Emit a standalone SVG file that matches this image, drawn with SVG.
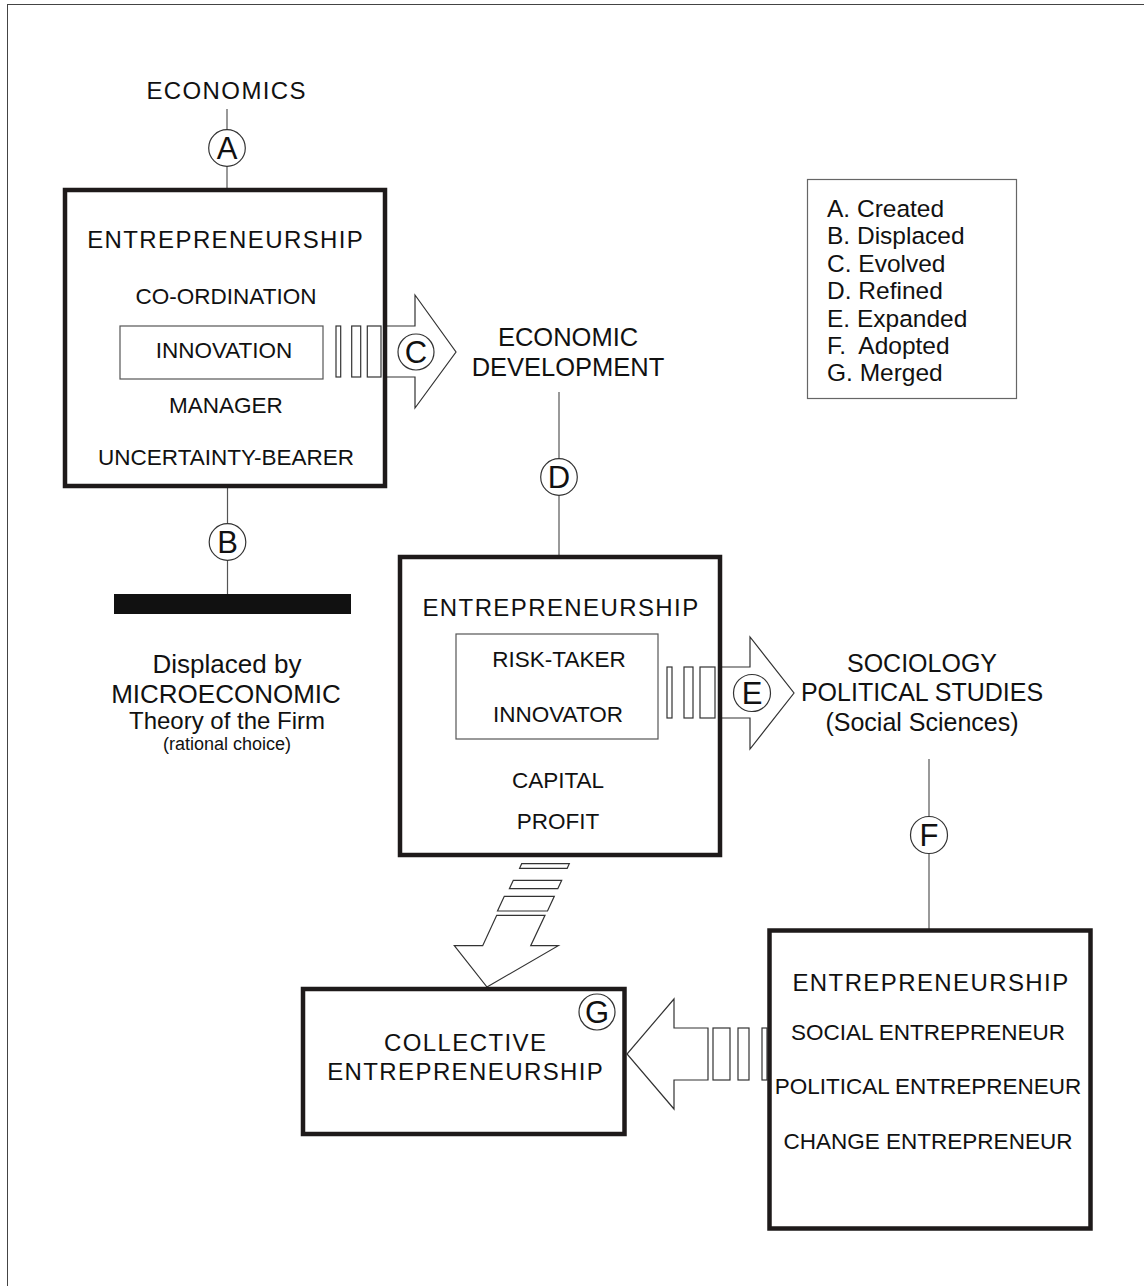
<svg xmlns="http://www.w3.org/2000/svg" width="1144" height="1286" viewBox="0 0 1144 1286">
<style>
text{font-family:"Liberation Sans",Arial,sans-serif;fill:#111;text-anchor:middle}
.big{font-size:24px;letter-spacing:1.4px}
.mid{font-size:22.5px}
.lbl{font-size:25.5px}
.leg{font-size:24.5px;text-anchor:start}
.box{fill:#fff;stroke:#1e1a1a;stroke-width:4.5}
.inner{fill:none;stroke:#555;stroke-width:1.2}
.line{stroke:#555;stroke-width:1.2;fill:none}
.circ{fill:#fff;stroke:#333;stroke-width:1.2}
.ltr{font-size:31px}
.arr{fill:#fff;stroke:#333;stroke-width:1.2;stroke-linejoin:miter}
</style>
<rect x="0" y="0" width="1144" height="1286" fill="#fff"/>
<rect x="7.5" y="4.5" width="1150" height="1300" fill="none" stroke="#444" stroke-width="1"/>

<g id="connectors">
  <line class="line" x1="227" y1="109" x2="227" y2="190"/>
  <line class="line" x1="227.5" y1="486" x2="227.5" y2="594"/>
  <line class="line" x1="559" y1="392" x2="559" y2="557"/>
  <line class="line" x1="929" y1="759" x2="929" y2="930"/>
  <rect x="114" y="594" width="237" height="20" fill="#111"/>
  <!-- C arrow -->
  <polygon class="arr" points="385,326 415,326 415,295 456,352 415,408 415,377 385,377"/>
  <!-- E arrow -->
  <polygon class="arr" points="720,667 750,667 750,637 794,693 750,749 750,718 720,718"/>
  <!-- G arrow -->
  <polygon class="arr" points="708,1028 674,1028 674,999 627,1054 674,1109 674,1080 708,1080"/>
  <rect class="arr" x="713" y="1028" width="17" height="52"/>
  <rect class="arr" x="738" y="1028" width="11" height="52"/>
  <rect class="arr" x="762" y="1028" width="5" height="52"/>
  <!-- diagonal arrow -->
  <polygon class="arr" points="521.7,863.7 569.3,863.7 567.2,868.3 519.6,868.3"/>
  <polygon class="arr" points="513.3,880.3 561.7,880.3 557.8,888.7 509.4,888.7"/>
  <polygon class="arr" points="504.3,896.3 554.3,896.3 547.5,911 497.5,911"/>
  <polygon class="arr" points="496.7,915.3 545,915.3 530.7,945.7 558.3,945.7 487,987 454.3,945.7 482.7,945.7"/>
</g>

<g id="economics"><text class="big" x="226.7" y="99">ECONOMICS</text></g>

<g id="box1">
  <rect class="box" x="65" y="190" width="320" height="296"/>
  <text class="big" x="225.7" y="248">ENTREPRENEURSHIP</text>
  <text class="mid" x="226" y="304">CO-ORDINATION</text>
  <rect class="inner" x="120" y="326" width="203" height="53"/>
  <text class="mid" x="224" y="358">INNOVATION</text>
  <text class="mid" x="226" y="413">MANAGER</text>
  <text class="mid" x="226" y="465">UNCERTAINTY-BEARER</text>
  <rect class="arr" x="336" y="326" width="4.7" height="51"/>
  <rect class="arr" x="351.7" y="326" width="9" height="51"/>
  <rect class="arr" x="367.3" y="326" width="13.7" height="51"/>
</g>

<g id="econdev">
  <text class="lbl" x="568" y="346">ECONOMIC</text>
  <text class="lbl" x="568" y="376">DEVELOPMENT</text>
</g>

<g id="displaced">
  <text style="font-size:26px" x="227" y="673">Displaced by</text>
  <text style="font-size:26px" x="226" y="703">MICROECONOMIC</text>
  <text style="font-size:24px" x="227" y="729">Theory of the Firm</text>
  <text style="font-size:18px" x="227" y="750">(rational choice)</text>
</g>

<g id="box2">
  <rect class="box" x="400" y="557" width="320" height="298"/>
  <text class="big" x="561" y="616">ENTREPRENEURSHIP</text>
  <rect class="inner" x="456" y="634" width="202" height="105"/>
  <text class="mid" x="559" y="667">RISK-TAKER</text>
  <text class="mid" x="558" y="722">INNOVATOR</text>
  <text class="mid" x="558" y="788">CAPITAL</text>
  <text class="mid" x="558" y="829">PROFIT</text>
  <rect class="arr" x="667" y="667" width="5" height="51"/>
  <rect class="arr" x="684" y="667" width="9" height="51"/>
  <rect class="arr" x="700" y="667" width="15" height="51"/>
</g>

<g id="sociology">
  <text style="font-size:25px" x="922" y="672">SOCIOLOGY</text>
  <text style="font-size:25px" x="922" y="701">POLITICAL STUDIES</text>
  <text style="font-size:25px" x="922" y="731">(Social Sciences)</text>
</g>

<g id="box3">
  <rect class="box" x="769.5" y="930.5" width="321" height="298"/>
  <text class="big" x="931" y="991">ENTREPRENEURSHIP</text>
  <text class="mid" x="928" y="1040">SOCIAL ENTREPRENEUR</text>
  <text class="mid" x="928" y="1094">POLITICAL ENTREPRENEUR</text>
  <text class="mid" x="928" y="1149">CHANGE ENTREPRENEUR</text>
</g>

<g id="collective">
  <rect class="box" x="303" y="989" width="321.5" height="145"/>
  <text class="big" x="465.7" y="1051">COLLECTIVE</text>
  <text class="big" x="465.7" y="1080">ENTREPRENEURSHIP</text>
</g>

<g id="legend">
  <rect x="807.5" y="179.5" width="209" height="219" fill="#fff" stroke="#666" stroke-width="1.2"/>
  <text class="leg" x="827" y="217">A. Created</text>
  <text class="leg" x="827" y="244">B. Displaced</text>
  <text class="leg" x="827" y="272">C. Evolved</text>
  <text class="leg" x="827" y="299">D. Refined</text>
  <text class="leg" x="827" y="327">E. Expanded</text>
  <text class="leg" x="827" y="354" xml:space="preserve">F.  Adopted</text>
  <text class="leg" x="827" y="381">G. Merged</text>
</g>

<g id="circles">
  <g id="cA"><circle class="circ" cx="227" cy="148" r="18.3"/><text class="ltr" x="227" y="159">A</text></g>
  <g id="cB"><circle class="circ" cx="227.5" cy="542" r="18.3"/><text class="ltr" x="227.5" y="553">B</text></g>
  <g id="cC"><circle class="circ" cx="416" cy="352" r="18"/><text class="ltr" x="416" y="363">C</text></g>
  <g id="cD"><circle class="circ" cx="559" cy="477" r="18.3"/><text class="ltr" x="559" y="488">D</text></g>
  <g id="cE"><circle class="circ" cx="752" cy="693" r="18.5"/><text class="ltr" x="752" y="704">E</text></g>
  <g id="cF"><circle class="circ" cx="929" cy="835" r="18.5"/><text class="ltr" x="929" y="846">F</text></g>
  <g id="cG"><circle class="circ" cx="597" cy="1012" r="18"/><text class="ltr" x="597" y="1023">G</text></g>
</g>
</svg>
